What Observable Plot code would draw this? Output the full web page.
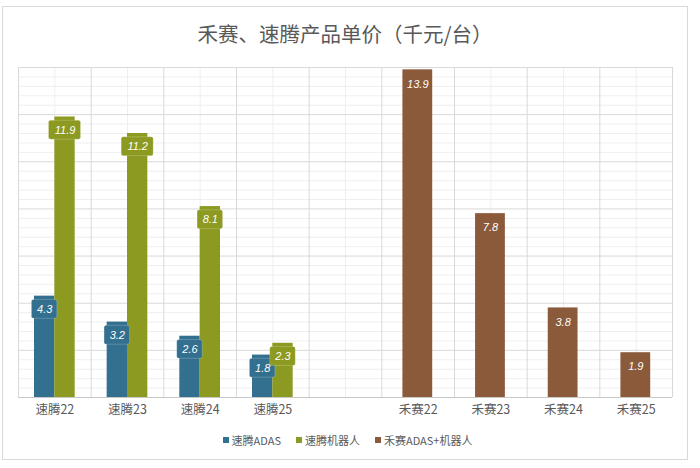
<!DOCTYPE html>
<html>
<head>
<meta charset="utf-8">
<script src="https://cdn.jsdelivr.net/npm/d3@7"></script>
<script src="https://cdn.jsdelivr.net/npm/@observablehq/plot@0.6"></script>
<style>
  html, body { margin: 0; padding: 0; background: #fff; }
  body { width: 700px; height: 468px; position: relative; overflow: hidden; font-family: "Noto Sans CJK SC", "Noto Sans", sans-serif; }
  #frame { position: absolute; left: 2px; top: 6px; width: 684px; height: 452px; border: 1.5px solid #d9d9d9; }
  #title { position: absolute; left: 0; top: 18px; width: 690px; text-align: center; font-size: 20.5px; line-height: 30px; color: #595959; }
  #chart { position: absolute; left: 0; top: 50px; }
  #legend { position: absolute; left: 0; top: 432px; width: 695px; display: flex; justify-content: center; gap: 15px; font-size: 11px; line-height: 16px; color: #595959; }
  #legend .item { display: flex; align-items: center; gap: 3px; }
  #legend .sw { width: 6px; height: 6px; display: inline-block; }
</style>
</head>
<body>
<div id="frame"></div>
<div id="title">禾赛、速腾产品单价（千元/台）</div>
<div id="chart"></div>
<div id="legend"></div>
<script>
// ---- data ----
const categories = ["速腾22", "速腾23", "速腾24", "速腾25", "", "禾赛22", "禾赛23", "禾赛24", "禾赛25"];
const robosenseADAS = [4.3, 3.2, 2.6, 1.8];      // 速腾22..25
const robosenseRobot = [11.9, 11.2, 8.1, 2.3];   // 速腾22..25
const hesaiTotal = [13.9, 7.8, 3.8, 1.9];        // 禾赛22..25
const seriesNames = ["速腾ADAS", "速腾机器人", "禾赛ADAS+机器人"];
const seriesColors = ["#336f8e", "#8d9a22", "#8b5a3a"];

// ---- rows built from the arrays ----
const rows = [
  ...robosenseADAS.map((v, k) => ({ i: k, v, s: 0 })),
  ...robosenseRobot.map((v, k) => ({ i: k, v, s: 1 })),
  ...hesaiTotal.map((v, k) => ({ i: k + 5, v, s: 2 }))
];
rows.forEach(d => { d.series = seriesNames[d.s]; d.label = d.v.toFixed(1); });

// bar extent inside each category band (fraction of band)
const x1Off = [0.22, 0.5, 0.29];
const x2Off = [0.5, 0.78, 0.70];
const bx1 = d => d.i + x1Off[d.s];
const bx2 = d => d.i + x2Off[d.s];
const bcx = d => (bx1(d) + bx2(d)) / 2;
const bandPx = 654 / 9;
const halfW = d => (d.label.length * 6.5 + 6) / 2 / bandPx;

const majorY = d3.range(0, 8).map(k => k * 2);
const minorY = d3.range(0, 36).filter(k => k % 5 !== 0).map(k => k * 0.4);
const majorX = d3.range(0, 10);
const minorX = d3.range(0, 9).map(k => k + 0.5);

const labelMarks = [];
for (const s of [0, 1]) {
  const sub = rows.filter(d => d.s === s);
  labelMarks.push(
    Plot.rect(sub, {
      x1: d => bcx(d) - halfW(d), x2: d => bcx(d) + halfW(d),
      y1: d => d.v - 0.96, y2: d => d.v - 0.16,
      fill: "series", rx: 2, stroke: "#ffffff", strokeOpacity: 0.35, strokeWidth: 0.6
    }),
    Plot.text(sub, {
      x: bcx, y: d => d.v - 0.56, text: "label",
      fill: "white", fontStyle: "italic", fontSize: 11, fontFamily: "Liberation Sans, Arial, sans-serif",
      textAnchor: "middle", lineAnchor: "middle"
    })
  );
}
const hesaiRows = rows.filter(d => d.s === 2);
labelMarks.push(
  Plot.text(hesaiRows, {
    x: bcx, y: d => d.v - 0.6, text: "label",
    fill: "white", fontStyle: "italic", fontSize: 11, fontFamily: "Liberation Sans, Arial, sans-serif",
    textAnchor: "middle", lineAnchor: "middle"
  })
);

const chart = Plot.plot({
  width: 700,
  height: 380,
  marginTop: 17,
  marginBottom: 33,
  marginLeft: 18,
  marginRight: 28,
  style: { fontFamily: "Noto Sans CJK SC, Noto Sans, sans-serif", background: "transparent" },
  x: { domain: [0, 9], axis: null },
  y: { domain: [0, 14], axis: null },
  color: { domain: seriesNames, range: seriesColors },
  marks: [
    Plot.ruleY(minorY, { stroke: "#efefef", strokeWidth: 1 }),
    Plot.ruleX(minorX, { stroke: "#efefef", strokeWidth: 1 }),
    Plot.ruleY(majorY.concat([14]), { stroke: "#d9d9d9", strokeWidth: 1 }),
    Plot.ruleX(majorX, { stroke: "#d9d9d9", strokeWidth: 1 }),
    Plot.rectY(rows, { x1: bx1, x2: bx2, y1: 0, y2: "v", fill: "series" }),
    Plot.ruleY([0], { stroke: "#c8c8c8", strokeWidth: 1.2 }),
    ...labelMarks,
    Plot.axisX(minorX, {
      tickSize: 0, tickPadding: 8, fontSize: 12.5, fill: "#595959",
      tickFormat: d => categories[Math.floor(d)]
    })
  ]
});
document.getElementById("chart").appendChild(chart);

// legend
const legend = document.getElementById("legend");
seriesNames.forEach((name, k) => {
  const item = document.createElement("div");
  item.className = "item";
  const sw = document.createElement("span");
  sw.className = "sw";
  sw.style.background = seriesColors[k];
  const t = document.createElement("span");
  t.textContent = name;
  item.appendChild(sw);
  item.appendChild(t);
  legend.appendChild(item);
});
</script>
</body>
</html>
